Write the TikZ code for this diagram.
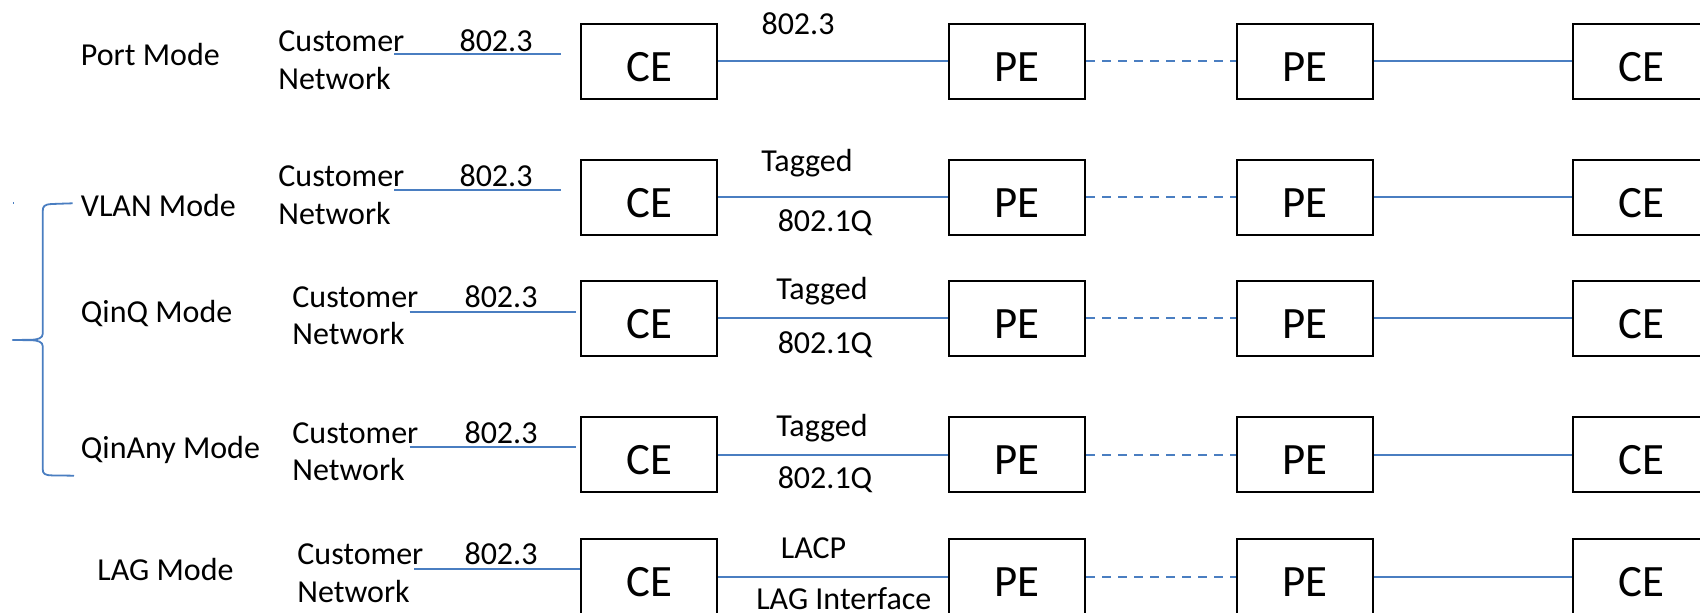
\documentclass[tikz,border=0pt]{standalone}
\usepackage{fontspec}
\setmainfont{Carlito}
\definecolor{lineblue}{RGB}{74,126,193}
\newcommand\bigfnt{\fontsize{22.4}{26}\selectfont}
\newcommand\smfnt{\fontsize{16}{19.2}\selectfont}
\tikzset{
  box/.style={draw=black, line width=1pt, minimum width=68pt, minimum height=37.5pt,
    inner sep=0pt, font=\bigfnt, text height=19.9pt, text depth=0pt},
  lbl/.style={font=\smfnt, inner sep=0pt},
  link/.style={draw=lineblue, line width=1pt},
  dlink/.style={link, dash pattern=on 4.5pt off 3.5pt},
}
\begin{document}
\begin{tikzpicture}[x=0.5pt, y=-0.5pt]
\useasboundingbox (0,0) rectangle (1700,613);
\clip (0,0) rectangle (1700,613);
\fill[white] (0,0) rectangle (1700,613);

% boxes and trunk connectors
\foreach \r/\y in {1/61.5,2/197.5,3/318.5,4/454.7,5/576.5} {
  \node[box] (ceA\r) at (649,\y) {CE};
  \node[box] (peA\r) at (1017,\y) {PE};
  \node[box] (peB\r) at (1305,\y) {PE};
  \node[box] (ceB\r) at (1641,\y) {CE};
  \draw[link] (ceA\r) -- (peA\r);
  \draw[dlink] (peA\r) -- (peB\r);
  \draw[link] (peB\r) -- (ceB\r);
}

% mode labels
\node[lbl, anchor=base west] (m1) at (80.5,65.7) {Port Mode};
\node[lbl, anchor=base west] (m2) at (80.5,216.7) {VLAN Mode};
\node[lbl, anchor=base west] (m3) at (80.5,323) {QinQ Mode};
\node[lbl, anchor=base west] (m4) at (80.5,458.8) {QinAny Mode};
\node[lbl, anchor=base west] (m5) at (97,580.8) {LAG Mode};

% customer network labels
\node[lbl, anchor=base west] (cu1) at (278,51.5) {Customer};
\node[lbl, anchor=base west] (nw1) at (278,89.2) {Network};
\node[lbl, anchor=base west] (cu2) at (278,186.7) {Customer};
\node[lbl, anchor=base west] (nw2) at (278,224.2) {Network};
\node[lbl, anchor=base west] (cu3) at (292,307.8) {Customer};
\node[lbl, anchor=base west] (nw3) at (292,345) {Network};
\node[lbl, anchor=base west] (cu4) at (292,443.8) {Customer};
\node[lbl, anchor=base west] (nw4) at (292,481) {Network};
\node[lbl, anchor=base west] (cu5) at (297,565) {Customer};
\node[lbl, anchor=base west] (nw5) at (297,603) {Network};

% access 802.3 labels
\node[lbl, anchor=base] (a1) at (496,51.5) {802.3};
\node[lbl, anchor=base] (a2) at (496,186.7) {802.3};
\node[lbl, anchor=base] (a3) at (501,307.8) {802.3};
\node[lbl, anchor=base] (a4) at (501,443.8) {802.3};
\node[lbl, anchor=base] (a5) at (501,565) {802.3};

% access lines
\coordinate (s1) at (394,54);    \coordinate (e1) at (561,54);
\coordinate (s2) at (394,190.3); \coordinate (e2) at (561,190.3);
\coordinate (s3) at (409.5,311.7); \coordinate (e3) at (576,311.7);
\coordinate (s4) at (409.5,447.3); \coordinate (e4) at (576,447.3);
\coordinate (s5) at (414,569.3);
\draw[link] (s1) -- (e1);
\draw[link] (s2) -- (e2);
\draw[link] (s3) -- (e3);
\draw[link] (s4) -- (e4);
\draw[link] (s5) -- (s5 -| ceA5.west);

% trunk labels
\node[lbl, anchor=base] (t1) at (798,34.7) {802.3};
\node[lbl, anchor=base] (t2) at (807,171.7) {Tagged};
\node[lbl, anchor=base] (q2) at (825,231.2) {802.1Q};
\node[lbl, anchor=base] (t3) at (822,300) {Tagged};
\node[lbl, anchor=base] (q3) at (825,353.3) {802.1Q};
\node[lbl, anchor=base] (t4) at (822,436.7) {Tagged};
\node[lbl, anchor=base] (q4) at (825,488.3) {802.1Q};
\node[lbl, anchor=base] (t5) at (813.5,558.8) {LACP};
\node[lbl, anchor=base] (q5) at (843.8,609.5) {LAG Interface};

% brace
\draw[link, line width=0.9pt, line join=round]
  (72.7,203.3) -- (52,204) .. controls (44,204.5) and (42.7,206) .. (42.7,212)
  -- (42.7,334) .. controls (42.7,338) and (38,339.5) .. (32,339.8)
  -- (12.7,340) -- (32,340.2) .. controls (38,340.5) and (42.7,342) .. (42.7,346)
  -- (42.7,469) .. controls (42.7,474) and (45,475.2) .. (52,475.4) -- (74,475.7);
\draw[link, line width=0.6pt] (13.3,202.3) -- (13.3,204.5);
\end{tikzpicture}
\end{document}
